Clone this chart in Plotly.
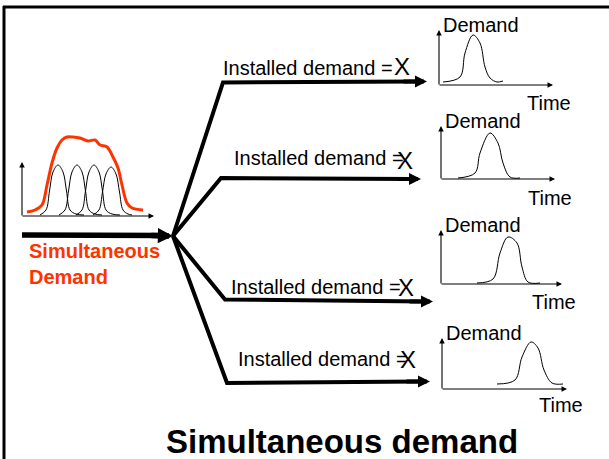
import plotly.graph_objects as go

W, H = 609, 459
FONT = "Liberation Sans, Arial, sans-serif"
RED = "#FF3300"

# ---------------- data ----------------
# Left combined chart (local coords: time t, demand d)
red_t = [5, 13, 20, 25, 30, 35, 40, 45, 51, 58, 66, 73, 78, 85, 91, 96, 100, 105, 110, 121]
red_d = [4, 6, 11, 31, 53, 68, 76, 79, 79, 78, 75, 76, 71, 69, 59, 48, 31, 13, 8, 6]

bell_a_t = [18, 24, 27.5, 31, 36, 41, 44.5, 48, 54, 62]
bell_a_d = [1, 6, 25, 44, 51, 44, 25, 6, 2, 1]
bell_b_t = [37, 43, 46.5, 50, 55, 60, 63.5, 67, 73, 80]
bell_b_d = [1, 6, 25, 44, 51, 44, 25, 6, 2, 1]
bell_c_t = [54, 60, 63.5, 67, 72, 77, 80.5, 84, 90, 98]
bell_c_d = [1, 6, 25, 44, 51, 44, 25, 6, 2, 1]
bell_d_t = [71, 77, 80.5, 84, 89, 94, 97.5, 101, 106, 110]
bell_d_d = [1, 6, 24, 42, 49, 42, 24, 6, 2, 1]

# Right mini charts (local coords)
peak1_t = [4, 21, 26, 34, 41, 46, 51, 58, 64]
peak1_d = [3, 8, 32, 50, 42, 18, 7, 3, 4]
peak2_t = [17, 34, 39, 49, 57, 62, 69, 79]
peak2_d = [1, 6, 26, 46, 36, 16, 2, 1]
peak3_t = [36, 52, 59, 67, 76, 81, 87, 99]
peak3_d = [1, 5, 31, 47, 41, 17, 2, 1]
peak4_t = [55, 73, 80, 89, 96, 102, 110, 121]
peak4_d = [5, 9, 32, 47, 41, 19, 6, 5]

branch_label = "Installed demand ="
branch_symbol = "X"
axis_y_label = "Demand"
axis_x_label = "Time"
left_label = "Simultaneous<br>Demand"
title_text = "Simultaneous demand"

# ---------------- layout geometry ----------------
fig = go.Figure()
ann = []


def line(xs, ys, width=1.3, color="black", shape="linear"):
    fig.add_trace(go.Scatter(x=xs, y=ys, mode="lines",
                             line=dict(color=color, width=width, shape=shape),
                             hoverinfo="skip", showlegend=False))


def arrow(x0, y0, x1, y1, width, size):
    ann.append(dict(x=x1, y=y1, ax=x0, ay=y0, xref="x", yref="y",
                    axref="x", ayref="y", text="", showarrow=True,
                    arrowhead=2, arrowsize=size, arrowwidth=width,
                    arrowcolor="black", standoff=0, startstandoff=0))


def text(x, y, s, size, color="black", bold=False, xanchor="left", align="left"):
    if bold:
        s = "<b>" + s + "</b>"
    ann.append(dict(x=x, y=y, xref="x", yref="y", text=s, showarrow=False,
                    xanchor=xanchor, yanchor="middle", align=align,
                    font=dict(family=FONT, size=size, color=color)))


def place(ox, oy, ts, ds):
    return [ox + t for t in ts], [oy - d for d in ds]


# border
line([3, 609], [7, 7], width=3)
line([4, 4], [6, 459], width=3)

# left combined chart
lox, loy = 22, 216
arrow(lox, loy + 1, lox, 162, 1.1, 1)
arrow(lox - 1, loy, 154, loy, 1.1, 1)
for bt, bd in [(bell_a_t, bell_a_d), (bell_b_t, bell_b_d),
               (bell_c_t, bell_c_d), (bell_d_t, bell_d_d)]:
    xs, ys = place(lox, loy, bt, bd)
    line(xs, ys, width=1, shape="spline")
xs, ys = place(lox, loy, red_t, red_d)
line(xs, ys, width=3, color=RED, shape="spline")

text(27, 264, left_label, 20, color=RED, bold=True)

# main arrow
hub = (173, 236)
line([22, 166], [235, 235.5], width=5.5)
arrow(150, 235.5, hub[0], hub[1], 5.5, 0.55)

# branches: corner, tip, label left, label y, X center
branches = [
    ((223, 82.5), (427, 81.5), 221, 68, 402, 66.5),
    ((221, 178), (421, 179), 232, 158, 405, 160),
    ((225, 299.5), (433, 301.5), 229, 287, 406, 287),
    ((227, 383), (430, 381.5), 236, 359, 408, 359),
]
for corner, tip, lx, ly, xx, xy in branches:
    line([hub[0], corner[0], tip[0] - 8], [hub[1], corner[1], tip[1]], width=4)
    arrow(tip[0] - 25, tip[1], tip[0], tip[1], 4, 0.6)
    text(lx, ly, branch_label, 20)
    text(xx, xy, branch_symbol, 24, xanchor="center")

# mini charts: origin, y-axis top, x-axis end, time label right edge, time label y
minis = [
    ((439, 85), 30, 553, 573, 103, peak1_t, peak1_d),
    ((441, 179), 126, 555, 574, 198, peak2_t, peak2_d),
    ((441, 284), 230, 562, 578, 302, peak3_t, peak3_d),
    ((442, 389), 338, 567, 585, 405, peak4_t, peak4_d),
]
for (ox, oy), ytop, xend, trx, ty, pt, pd in minis:
    arrow(ox, oy + 1, ox, ytop, 1.1, 1)
    arrow(ox - 1, oy, xend, oy, 1.1, 1)
    xs, ys = place(ox, oy, pt, pd)
    line(xs, ys, width=1, shape="spline")
    text(ox + 2, ytop - 5, axis_y_label, 20)
    text(trx, ty, axis_x_label, 20, xanchor="right")

# title
text(342, 441, title_text, 33, bold=True, xanchor="center")

fig.update_layout(
    width=W, height=H,
    margin=dict(l=0, r=0, t=0, b=0),
    paper_bgcolor="white", plot_bgcolor="white",
    xaxis=dict(range=[0, W], visible=False, fixedrange=True),
    yaxis=dict(range=[H, 0], visible=False, fixedrange=True),
    annotations=ann,
    showlegend=False,
    hovermode=False,
)

fig.write_html(
    "out.html",
    config={"staticPlot": True},
    post_script="document.body.style.margin='0';document.body.style.overflow='hidden';",
)
